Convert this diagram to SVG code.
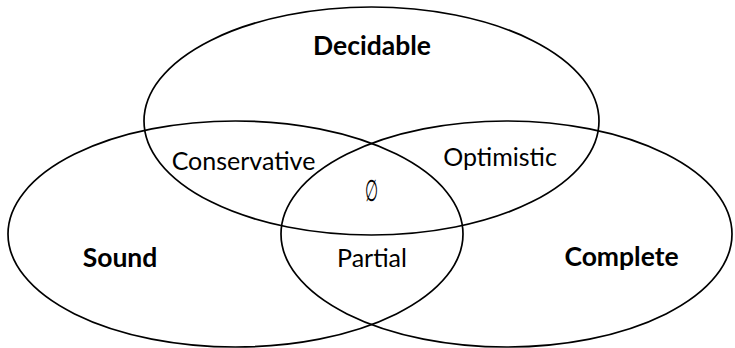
<svg xmlns="http://www.w3.org/2000/svg" width="735" height="348" viewBox="0 0 735 348">
<style>
.set{fill:none;stroke:#000;stroke-width:1.7}
.t{font-family:Lato,"Noto Sans","DejaVu Sans",sans-serif;font-size:25px;fill:#000;text-anchor:middle}
.b{font-weight:bold;font-size:26.5px}
.m{font-family:"DejaVu Sans",sans-serif;font-size:30px;font-weight:200;fill:#000;text-anchor:middle}
</style>
<rect width="735" height="348" fill="#fff"/>
<g id="connectors"/>
<g id="decidable">
<ellipse class="set" cx="371.5" cy="121" rx="227.5" ry="114"/>
<text class="t b" x="372" y="55">Decidable</text>
</g>
<g id="sound">
<ellipse class="set" cx="235.5" cy="234" rx="227.5" ry="113"/>
<text class="t b" x="120" y="267">Sound</text>
</g>
<g id="complete">
<ellipse class="set" cx="506.5" cy="234" rx="225.5" ry="113"/>
<text class="t b" x="621.5" y="266">Complete</text>
</g>
<g id="conservative"><text class="t" x="243.5" y="170">Conservative</text></g>
<g id="optimistic"><text class="t" x="500" y="166">Optimistic</text></g>
<g id="empty"><text class="m" transform="translate(372 201) scale(0.5 1)" x="0" y="0">∅</text></g>
<g id="partial"><text class="t" x="372" y="267">Partial</text></g>
</svg>
